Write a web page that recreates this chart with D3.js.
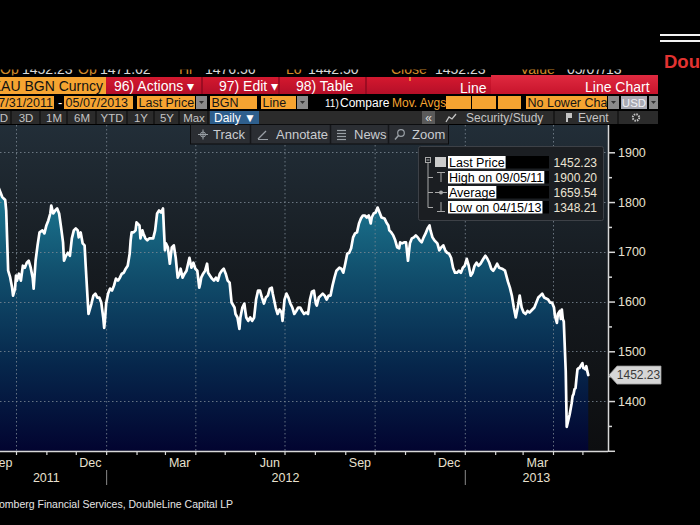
<!DOCTYPE html>
<html><head><meta charset="utf-8">
<script src="https://cdn.jsdelivr.net/npm/d3@7"></script>
<style>html,body{margin:0;padding:0;background:#000;overflow:hidden}svg{display:block}text{font-family:"Liberation Sans",Arial,sans-serif}</style>
</head><body>
<svg id="c" width="700" height="525"></svg>
<script>
// ---------------- DATA ----------------
const dates = [
"2011-09-05","2011-09-09","2011-09-13","2011-09-15","2011-09-17","2011-09-20","2011-09-21","2011-09-23","2011-09-25","2011-09-27","2011-09-28","2011-09-30",
"2011-10-01","2011-10-02","2011-10-04","2011-10-06","2011-10-08","2011-10-10","2011-10-12","2011-10-14","2011-10-16","2011-10-18","2011-10-19","2011-10-21","2011-10-23","2011-10-25","2011-10-28","2011-10-30",
"2011-11-01","2011-11-03","2011-11-05","2011-11-06","2011-11-08","2011-11-10","2011-11-12","2011-11-14","2011-11-16","2011-11-18","2011-11-19","2011-11-21","2011-11-23","2011-11-25","2011-11-27","2011-11-29",
"2011-12-01","2011-12-03","2011-12-04","2011-12-06","2011-12-08","2011-12-10","2011-12-11","2011-12-13","2011-12-14","2011-12-17","2011-12-19","2011-12-21","2011-12-23","2011-12-25","2011-12-27","2011-12-29","2011-12-30","2011-12-31",
"2012-01-01","2012-01-03","2012-01-05","2012-01-07","2012-01-09","2012-01-11","2012-01-13","2012-01-15","2012-01-17","2012-01-19","2012-01-21","2012-01-23","2012-01-25","2012-01-26","2012-01-27","2012-01-29","2012-01-31",
"2012-02-01","2012-02-04","2012-02-05","2012-02-07","2012-02-08","2012-02-10","2012-02-12","2012-02-14","2012-02-16","2012-02-18","2012-02-20","2012-02-22","2012-02-24","2012-02-26","2012-02-28","2012-02-29",
"2012-03-01","2012-03-02","2012-03-04","2012-03-06","2012-03-08","2012-03-10","2012-03-12","2012-03-14","2012-03-16","2012-03-17","2012-03-19","2012-03-21","2012-03-23","2012-03-26","2012-03-28","2012-03-30",
"2012-04-01","2012-04-03","2012-04-05","2012-04-06","2012-04-07","2012-04-09","2012-04-11","2012-04-13","2012-04-14","2012-04-16","2012-04-18","2012-04-20","2012-04-22","2012-04-24","2012-04-26","2012-04-28","2012-04-30",
"2012-05-02","2012-05-04","2012-05-06","2012-05-08","2012-05-11","2012-05-12","2012-05-14","2012-05-16","2012-05-17","2012-05-19","2012-05-21","2012-05-22","2012-05-23","2012-05-25","2012-05-27","2012-05-29","2012-05-31",
"2012-06-02","2012-06-04","2012-06-06","2012-06-08","2012-06-10","2012-06-12","2012-06-14","2012-06-16","2012-06-18","2012-06-19","2012-06-22","2012-06-24","2012-06-26","2012-06-28","2012-06-29",
"2012-07-01","2012-07-03","2012-07-05","2012-07-07","2012-07-09","2012-07-11","2012-07-13","2012-07-15","2012-07-17","2012-07-19","2012-07-21","2012-07-23","2012-07-25","2012-07-27","2012-07-29","2012-07-31",
"2012-08-02","2012-08-03","2012-08-05","2012-08-07","2012-08-09","2012-08-11","2012-08-13","2012-08-15","2012-08-17","2012-08-19","2012-08-21","2012-08-23","2012-08-26","2012-08-28","2012-08-30",
"2012-09-01","2012-09-03","2012-09-05","2012-09-07","2012-09-09","2012-09-11","2012-09-13","2012-09-15","2012-09-17","2012-09-19","2012-09-21","2012-09-23","2012-09-25","2012-09-27","2012-09-28","2012-09-30",
"2012-10-02","2012-10-04","2012-10-06","2012-10-08","2012-10-11","2012-10-13","2012-10-15","2012-10-16","2012-10-18","2012-10-20","2012-10-22","2012-10-24","2012-10-26","2012-10-27","2012-10-29","2012-10-31",
"2012-11-02","2012-11-04","2012-11-06","2012-11-08","2012-11-10","2012-11-12","2012-11-14","2012-11-16","2012-11-18","2012-11-20","2012-11-22","2012-11-24","2012-11-26","2012-11-27","2012-11-29",
"2012-12-01","2012-12-04","2012-12-06","2012-12-08","2012-12-10","2012-12-12","2012-12-14","2012-12-16","2012-12-18","2012-12-20","2012-12-22","2012-12-24","2012-12-26","2012-12-28","2012-12-30",
"2013-01-01","2013-01-03","2013-01-05","2013-01-07","2013-01-09","2013-01-11","2013-01-13","2013-01-15","2013-01-17","2013-01-20","2013-01-22","2013-01-24","2013-01-26","2013-01-28","2013-01-30",
"2013-02-01","2013-02-03","2013-02-05","2013-02-08","2013-02-11","2013-02-14","2013-02-16","2013-02-18","2013-02-20","2013-02-22","2013-02-24","2013-02-26","2013-02-28",
"2013-03-02","2013-03-04","2013-03-06","2013-03-08","2013-03-11","2013-03-13","2013-03-15","2013-03-17","2013-03-19","2013-03-21","2013-03-23","2013-03-25","2013-03-27","2013-03-29","2013-03-31",
"2013-04-02","2013-04-03","2013-04-05","2013-04-06","2013-04-08","2013-04-09","2013-04-10","2013-04-11","2013-04-12","2013-04-14","2013-04-15","2013-04-18","2013-04-20","2013-04-21","2013-04-22","2013-04-23","2013-04-24","2013-04-25","2013-04-26","2013-04-27","2013-04-28","2013-04-29",
"2013-05-01","2013-05-02","2013-05-03","2013-05-04","2013-05-05","2013-05-06","2013-05-07"
];
const prices = [
1900.2,1858,1830,1820,1810,1804,1783,1662,1649,1628,1612,1626,
1652,1642,1656,1642,1672,1668,1678,1682,1668,1648,1626,1682,1713,1739,1743,1737,
1753,1763,1777,1793,1777,1783,1787,1777,1749,1719,1682,1692,1698,1692,1727,1743,
1747,1743,1729,1739,1717,1713,1676,1608,1575,1596,1612,1616,1608,1608,1598,1568,1547,1568,
1596,1616,1626,1622,1632,1646,1642,1648,1656,1658,1666,1672,1696,1723,1739,1739,1743,
1759,1753,1727,1743,1737,1727,1723,1727,1727,1727,1743,1777,1783,1779,1787,1743,
1703,1717,1709,1676,1709,1713,1688,1648,1656,1666,1648,1656,1662,1688,1668,1678,
1666,1662,1628,1636,1648,1656,1662,1676,1658,1652,1646,1642,1648,1642,1656,1662,1666,
1656,1642,1638,1598,1588,1575,1568,1545,1568,1588,1596,1581,1568,1561,1568,1561,1568,
1604,1622,1622,1608,1596,1608,1612,1626,1628,1616,1588,1575,1584,1578,1561,
1604,1616,1608,1596,1588,1575,1581,1588,1588,1581,1575,1578,1575,1604,1620,1622,
1596,1592,1608,1612,1616,1612,1604,1612,1612,1632,1648,1662,1668,1666,1658,
1676,1696,1698,1707,1729,1737,1739,1757,1767,1773,1773,1769,1773,1757,1769,1777,
1779,1789,1779,1769,1767,1759,1753,1743,1739,1733,1723,1709,1707,1719,1717,1719,
1719,1682,1717,1727,1729,1733,1729,1723,1719,1729,1737,1747,1753,1743,1729,
1723,1717,1703,1709,1713,1703,1698,1696,1688,1668,1658,1658,1662,1658,1668,
1672,1686,1672,1652,1658,1672,1678,1672,1676,1686,1692,1686,1678,1666,1662,
1668,1676,1668,1666,1662,1640,1628,1612,1588,1568,1588,1612,1588,
1578,1575,1581,1578,1584,1588,1598,1608,1612,1616,1608,1606,1604,1598,1598,
1588,1571,1557,1575,1581,1565,1584,1565,1560,1460,1348.21,1373,1395,1410,1414,1424,1426,1446,1464,1466,1466,1470,
1476,1466,1466,1464,1470,1460,1452.23
];
const yTicks = [1300,1400,1500,1600,1700,1800,1900];
const yMinorTicks = [1350,1450,1550,1650,1750,1850];
const gridDates = ["2011-10-01","2012-01-01","2012-04-01","2012-07-01","2012-10-01","2013-01-01","2013-04-01"];
const monthLabels = ["Sep","Dec","Mar","Jun","Sep","Dec","Mar"];
const monthLabelDates = ["2011-09-16","2011-12-16","2012-03-16","2012-06-16","2012-09-16","2012-12-16","2013-03-16"];
const yearLabels = ["2011","2012","2013"];
const yearStarts = ["2011-09-01","2012-01-01","2013-01-01"];
const legendLabels = ["Last Price","High on 09/05/11","Average","Low on 04/15/13"];
const legendValues = ["1452.23","1900.20","1659.54","1348.21"];
const lastPrice = 1452.23;

// ---------------- SETUP ----------------
const svg = d3.select("#c");
const W = 700, H = 525;
const PX0 = 0, PX1 = 608, PY0 = 125, PY1 = 451;
const parse = d3.utcParse("%Y-%m-%d");
const data = dates.map((d, i) => ({date: parse(d), v: prices[i]}));
const x = d3.scaleUtc().domain([parse("2011-10-01"), parse("2013-04-01")]).range([16, 553]);
const y = d3.scaleLinear().domain([1300, 1900]).range([450.8, 152.3]);

svg.append("rect").attr("width", W).attr("height", H).attr("fill", "#000");

const defs = svg.append("defs");
function grad(id, y1, y2, stops) {
  const g = defs.append("linearGradient").attr("id", id).attr("gradientUnits", "userSpaceOnUse")
    .attr("x1", 0).attr("x2", 0).attr("y1", y1).attr("y2", y2);
  stops.forEach(s => g.append("stop").attr("offset", s[0]).attr("stop-color", s[1]));
}
function clip(id, x0, y0, w, h) {
  defs.append("clipPath").attr("id", id).append("rect").attr("x", x0).attr("y", y0).attr("width", w).attr("height", h);
}
grad("bgG", PY0, PY1, [[0, "#222e38"], [0.45, "#161b20"], [1, "#0d0e10"]]);
grad("areaG", 185, PY1, [[0, "#1d7b95"], [0.33, "#114f6d"], [0.68, "#06264b"], [1, "#020430"]]);
grad("redG", 77, 94, [[0, "#d4182f"], [1, "#b50f28"]]);
grad("tabG", 75, 94, [[0, "#e02a40"], [1, "#c8142c"]]);
clip("plotClip", PX0, PY0, PX1 - PX0, PY1 - PY0);
clip("topClip", 0, 69.5, 700, 6);
clip("canvasClip", 0, 0, W, H);

// ---------------- PLOT ----------------
svg.append("rect").attr("x", PX0).attr("y", PY0).attr("width", PX1 - PX0).attr("height", PY1 - PY0).attr("fill", "url(#bgG)");
const plot = svg.append("g").attr("clip-path", "url(#plotClip)");
plot.append("path").datum(data)
  .attr("d", d3.area().x(d => x(d.date)).y0(y(1300)).y1(d => y(d.v)))
  .attr("fill", "url(#areaG)");
plot.selectAll(".gv").data(gridDates).join("line")
  .attr("x1", d => x(parse(d)) + 0.5).attr("x2", d => x(parse(d)) + 0.5)
  .attr("y1", PY0).attr("y2", PY1)
  .attr("stroke", "#7d8994").attr("stroke-width", 1).attr("stroke-dasharray", "1.5,2.5").attr("opacity", 0.8);
plot.selectAll(".gh").data(yTicks.filter(t => t > 1300)).join("line")
  .attr("x1", PX0).attr("x2", PX1)
  .attr("y1", d => Math.round(y(d)) + 0.5).attr("y2", d => Math.round(y(d)) + 0.5)
  .attr("stroke", "#7d8994").attr("stroke-width", 1).attr("stroke-dasharray", "1.5,2.5").attr("opacity", 0.8);
plot.append("path").datum(data)
  .attr("d", d3.line().x(d => x(d.date)).y(d => y(d.v)))
  .attr("fill", "none").attr("stroke", "#fff").attr("stroke-width", 2.7)
  .attr("stroke-linejoin", "round").attr("stroke-linecap", "round");

// ---------------- AXES ----------------
const axisCol = "#d8d8d8", labCol = "#e8e0cf";
const yAx = svg.append("g").attr("transform", `translate(${PX1},0)`)
  .call(d3.axisRight(y).tickValues(yTicks).tickSize(7).tickSizeOuter(0).tickPadding(3)
    .tickFormat(d => d === 1300 ? "" : d));
yAx.select(".domain").remove();
yAx.selectAll("line").attr("stroke", axisCol).attr("stroke-width", 1.5);
yAx.selectAll("text").attr("fill", labCol).attr("font-size", 12.5).attr("font-family", "Liberation Sans, Arial, sans-serif");
const yAx2 = svg.append("g").attr("transform", `translate(${PX1},0)`)
  .call(d3.axisRight(y).tickValues(yMinorTicks).tickSize(4).tickSizeOuter(0).tickFormat(""));
yAx2.select(".domain").remove();
yAx2.selectAll("line").attr("stroke", axisCol).attr("stroke-width", 1.5);
svg.append("line").attr("x1", PX1 + 0.5).attr("x2", PX1 + 0.5).attr("y1", PY0).attr("y2", PY1 + 1)
  .attr("stroke", axisCol).attr("stroke-width", 1.5);

const monthTicks = d3.utcMonth.range(parse("2011-09-01"), parse("2013-05-02"));
const xAx = svg.append("g").attr("transform", `translate(0,${PY1})`)
  .call(d3.axisBottom(x).tickValues(monthTicks).tickSize(4).tickSizeOuter(0).tickFormat(""));
xAx.select(".domain").remove();
xAx.selectAll("line").attr("stroke", axisCol).attr("stroke-width", 1.2);
svg.append("line").attr("x1", PX0).attr("x2", PX1).attr("y1", PY1 + 0.5).attr("y2", PY1 + 0.5)
  .attr("stroke", axisCol).attr("stroke-width", 1.5);

const labG = svg.append("g").attr("clip-path", "url(#canvasClip)");
labG.selectAll(".mlab").data(monthLabels).join("text")
  .attr("x", (d, i) => x(parse(monthLabelDates[i]))).attr("y", 467)
  .attr("text-anchor", "middle").attr("font-size", 12.5).attr("fill", labCol).text(d => d);
const yb = yearStarts.map(d => x(parse(d))).concat([PX1]);
labG.selectAll(".ylab").data(yearLabels).join("text")
  .attr("x", (d, i) => (yb[i] + yb[i + 1]) / 2).attr("y", 482)
  .attr("text-anchor", "middle").attr("font-size", 12.5).attr("fill", labCol).text(d => d);
svg.selectAll(".ysep").data(yearStarts.slice(1)).join("line")
  .attr("x1", d => x(parse(d)) + 0.5).attr("x2", d => x(parse(d)) + 0.5)
  .attr("y1", 470).attr("y2", 485).attr("stroke", "#8a8a8a").attr("stroke-width", 1);

// last price tag
const ly = y(lastPrice);
svg.append("path")
  .attr("d", `M${PX1 + 1},${ly} L${PX1 + 9},${ly - 9} L661,${ly - 9} L661,${ly + 9} L${PX1 + 9},${ly + 9} Z`)
  .attr("fill", "#d6d6d6").attr("stroke", "#9a9a9a").attr("stroke-width", 0.8);
svg.append("text").attr("x", 638.5).attr("y", ly + 4.3).attr("text-anchor", "middle")
  .attr("font-size", 12).attr("fill", "#3a3a3a").text(lastPrice.toFixed(2));

// ---------------- CHART TOOLBAR ----------------
const tb = svg.append("g");
tb.append("rect").attr("x", 190.5).attr("y", 124.5).attr("width", 258).attr("height", 19.5)
  .attr("fill", "#2b2e33").attr("stroke", "#0c0d0f");
[250, 330, 388].forEach(sx => tb.append("line").attr("x1", sx + 0.5).attr("x2", sx + 0.5).attr("y1", 125).attr("y2", 144).attr("stroke", "#15171a").attr("stroke-width", 1.5));
const tbTxt = [["Track", 213], ["Annotate", 276], ["News", 354], ["Zoom", 412]];
tb.selectAll(".tbt").data(tbTxt).join("text").attr("x", d => d[1]).attr("y", 139)
  .attr("font-size", 13).attr("fill", "#c9ccd0").text(d => d[0]);
const ic = "#9aa0a6";
tb.append("line").attr("x1", 198).attr("x2", 208).attr("y1", 134.5).attr("y2", 134.5).attr("stroke", ic);
tb.append("line").attr("x1", 203).attr("x2", 203).attr("y1", 129.5).attr("y2", 139.5).attr("stroke", ic);
tb.append("circle").attr("cx", 203).attr("cy", 134.5).attr("r", 2.5).attr("fill", "none").attr("stroke", ic);
tb.append("line").attr("x1", 258).attr("x2", 266).attr("y1", 139).attr("y2", 131).attr("stroke", ic).attr("stroke-width", 1.3);
tb.append("line").attr("x1", 258).attr("x2", 268).attr("y1", 139.5).attr("y2", 139.5).attr("stroke", ic);
[130.5, 133.5, 136.5, 139.5].forEach(yy => tb.append("line").attr("x1", 337).attr("x2", 346).attr("y1", yy).attr("y2", yy).attr("stroke", ic).attr("stroke-width", 1.2));
tb.append("circle").attr("cx", 401).attr("cy", 133).attr("r", 3.3).attr("fill", "none").attr("stroke", ic).attr("stroke-width", 1.2);
tb.append("line").attr("x1", 398.5).attr("x2", 395).attr("y1", 135.5).attr("y2", 139.5).attr("stroke", ic).attr("stroke-width", 1.5);

// ---------------- LEGEND ----------------
const lg = svg.append("g");
lg.append("rect").attr("x", 418.5).attr("y", 146.5).attr("width", 185).attr("height", 74)
  .attr("fill", "#1b1e22").attr("stroke", "#3d4147").attr("rx", 2);
const base = [166.5, 181.5, 196.5, 211.5];
lg.selectAll(".lbk").data(legendLabels).join("rect")
  .attr("x", 448).attr("y", (d, i) => base[i] - 10.5).attr("width", 101).attr("height", 12.5).attr("fill", "#000");
const lt = lg.selectAll(".lt").data(legendLabels).join("text").attr("class", "lt")
  .attr("x", 449).attr("y", (d, i) => base[i]).attr("font-size", 12.5).attr("fill", "#000").text(d => d);
lt.each(function (d, i) {
  const w = this.getComputedTextLength();
  lg.insert("rect", ".lt").attr("x", 448).attr("y", base[i] - 10.5).attr("width", Math.min(w + 2, 101)).attr("height", 12.5).attr("fill", "#fff");
});
lg.selectAll(".lv").data(legendValues).join("text")
  .attr("x", 597).attr("y", (d, i) => base[i]).attr("text-anchor", "end")
  .attr("font-size", 12).attr("fill", "#ece4d4").text(d => d);
const li = "#a8a8a8";
lg.append("rect").attr("x", 425.5).attr("y", 157.5).attr("width", 5).attr("height", 5).attr("fill", "none").attr("stroke", li);
lg.append("line").attr("x1", 426.5).attr("x2", 429.5).attr("y1", 160).attr("y2", 160).attr("stroke", li);
lg.append("line").attr("x1", 428).attr("x2", 428).attr("y1", 163).attr("y2", 207.5).attr("stroke", li);
[177, 192, 207].forEach(yy => lg.append("line").attr("x1", 428).attr("x2", 433).attr("y1", yy + 0.5).attr("y2", yy + 0.5).attr("stroke", li));
lg.append("rect").attr("x", 435).attr("y", 157).attr("width", 11).attr("height", 10).attr("fill", "#cbcbcb");
lg.append("line").attr("x1", 437).attr("x2", 445).attr("y1", 172.5).attr("y2", 172.5).attr("stroke", li);
lg.append("line").attr("x1", 441).attr("x2", 441).attr("y1", 172).attr("y2", 182).attr("stroke", li);
lg.append("line").attr("x1", 435).attr("x2", 447).attr("y1", 192.5).attr("y2", 192.5).attr("stroke", li);
lg.append("circle").attr("cx", 441).attr("cy", 192.5).attr("r", 2).attr("fill", li);
lg.append("line").attr("x1", 441).attr("x2", 441).attr("y1", 202).attr("y2", 211).attr("stroke", li);
lg.append("line").attr("x1", 437).attr("x2", 445).attr("y1", 211.5).attr("y2", 211.5).attr("stroke", li);

// ---------------- BLOOMBERG HEADER ROWS ----------------
const orange = "#f6a431";
const topRow = [["Op", 0, orange], ["1452.23", 22, "#fff"], ["Op", 78, orange], ["1471.62", 100, "#fff"], ["Hi", 179, orange], ["1476.56", 205, "#fff"],
  ["Lo", 286, orange], ["1442.50", 308, "#fff"], ["Close", 391, orange], ["1452.23", 435, "#fff"], ["Value", 520, orange], ["05/07/13", 567, "#fff"]];
svg.append("g").attr("clip-path", "url(#topClip)").selectAll("text").data(topRow).join("text")
  .attr("x", d => d[1]).attr("y", 74).attr("font-size", 14).attr("fill", d => d[2]).attr("opacity", 0.85).text(d => d[0]);

// row 2
svg.append("rect").attr("x", 0).attr("y", 77).attr("width", 106).attr("height", 17).attr("fill", orange);
clip("r2c", 0, 77, 106, 17);
svg.append("text").attr("clip-path", "url(#r2c)").attr("x", 103).attr("y", 91).attr("text-anchor", "end")
  .attr("font-size", 14).attr("fill", "#111").text("XAU BGN Curncy");
svg.append("rect").attr("x", 106).attr("y", 77).attr("width", 385).attr("height", 17).attr("fill", "url(#redG)");
[202, 279, 366].forEach(sx => svg.append("line").attr("x1", sx).attr("x2", sx).attr("y1", 77).attr("y2", 94).attr("stroke", "#8e0a1f").attr("stroke-width", 1.5));
svg.append("line").attr("x1", 410).attr("x2", 410).attr("y1", 77).attr("y2", 81).attr("stroke", orange).attr("stroke-width", 1.5);
const row2 = [["96) Actions ▾", 114, 91], ["97) Edit ▾", 219, 91], ["98) Table", 296, 91], ["Line", 460, 93]];
svg.selectAll(".r2").data(row2).join("text").attr("x", d => d[1]).attr("y", d => d[2])
  .attr("font-size", 14).attr("fill", "#fff").text(d => d[0]);
svg.append("rect").attr("x", 491).attr("y", 75).attr("width", 167).attr("height", 19).attr("fill", "url(#tabG)");
svg.append("text").attr("x", 585).attr("y", 91.5).attr("font-size", 14).attr("fill", "#fff").text("Line Chart");

// row 3
const r3 = svg.append("g");
const boxes3 = [[0, 54, "07/31/2011", "end"], [64, 69, "05/07/2013", "start"], [137, 58, "Last Price", "start"], [210, 47, "BGN", "start"], [261, 35, "Line", "start"],
  [446, 25, "", "start"], [472, 24, "", "start"], [498, 23, "", "start"], [526, 81, "No Lower Chart", "start"]];
boxes3.forEach((b, i) => {
  clip("b3c" + i, b[0], 96, b[1], 13);
  r3.append("rect").attr("x", b[0]).attr("y", 96).attr("width", b[1]).attr("height", 13).attr("fill", orange);
  r3.append("text").attr("clip-path", `url(#b3c${i})`)
    .attr("x", b[3] === "end" ? b[0] + b[1] - 1 : b[0] + 1.5).attr("y", 107).attr("text-anchor", b[3])
    .attr("font-size", 12.5).attr("fill", "#151515").text(b[2]);
});
r3.append("text").attr("x", 58).attr("y", 107).attr("font-size", 13).attr("fill", "#fff").text("-");
[[196, 11], [297, 11], [608, 11], [649, 9]].forEach(b => {
  r3.append("rect").attr("x", b[0]).attr("y", 96).attr("width", b[1]).attr("height", 13).attr("fill", "#8a8a8a");
  r3.append("path").attr("d", `M${b[0] + b[1] / 2 - 2.5},101 L${b[0] + b[1] / 2 + 2.5},101 L${b[0] + b[1] / 2},104 Z`).attr("fill", "#333");
});
r3.append("rect").attr("x", 621).attr("y", 96).attr("width", 26).attr("height", 13).attr("fill", "#a9a9b2");
r3.append("text").attr("x", 634).attr("y", 107).attr("text-anchor", "middle").attr("font-size", 11.5).attr("fill", "#f0f0f4").text("USD");
r3.append("text").attr("x", 325).attr("y", 107).attr("font-size", 10).attr("fill", "#fff").text("11)");
r3.append("text").attr("x", 340).attr("y", 107).attr("font-size", 12).attr("fill", "#fff").text("Compare");
r3.append("text").attr("x", 392).attr("y", 107).attr("font-size", 12).attr("fill", orange).text("Mov. Avgs");

// row 4
const r4 = svg.append("g");
r4.append("rect").attr("x", 0).attr("y", 111).attr("width", 658).attr("height", 13).attr("fill", "#2b2b2b");
[11, 40, 67, 96, 127, 154, 179, 208, 554, 618].forEach(sx => r4.append("line").attr("x1", sx).attr("x2", sx).attr("y1", 111).attr("y2", 124).attr("stroke", "#141414").attr("stroke-width", 1.5));
const r4lab = [["D", 4], ["3D", 26], ["1M", 54], ["6M", 82], ["YTD", 112], ["1Y", 141], ["5Y", 167], ["Max", 194]];
r4.selectAll(".r4").data(r4lab).join("text").attr("x", d => d[1]).attr("y", 122).attr("text-anchor", "middle")
  .attr("font-size", 11.5).attr("fill", "#c4c4c4").text(d => d[0]);
r4.append("rect").attr("x", 210).attr("y", 111).attr("width", 49).attr("height", 13).attr("fill", "#2e5f8d");
r4.append("text").attr("x", 214).attr("y", 122).attr("font-size", 12).attr("fill", "#fff").text("Daily ▼");
r4.append("rect").attr("x", 422).attr("y", 111).attr("width", 13).attr("height", 13).attr("fill", "#5a5a5a");
r4.append("text").attr("x", 428.5).attr("y", 122).attr("text-anchor", "middle").attr("font-size", 12).attr("fill", "#ddd").text("«");
r4.append("path").attr("d", "M446,122 L449,117 L452,119 L456,114").attr("fill", "none").attr("stroke", "#c4c4c4").attr("stroke-width", 1.3);
r4.append("text").attr("x", 466).attr("y", 122).attr("font-size", 12).attr("fill", "#c4c4c4").text("Security/Study");
r4.append("path").attr("d", "M566,113 L572,113 L572,118 L568,118 L568,122 L566,122 Z").attr("fill", "#c4c4c4");
r4.append("text").attr("x", 578).attr("y", 122).attr("font-size", 12).attr("fill", "#c4c4c4").text("Event");
r4.append("circle").attr("cx", 636).attr("cy", 117.5).attr("r", 3.2).attr("fill", "none").attr("stroke", "#c4c4c4").attr("stroke-width", 2).attr("stroke-dasharray", "1.5,1");

// ---------------- SLIDE DECOR ----------------
svg.append("rect").attr("x", 660).attr("y", 34).attr("width", 40).attr("height", 2).attr("fill", "#f2f2f2");
svg.append("rect").attr("x", 660).attr("y", 40).attr("width", 40).attr("height", 2).attr("fill", "#f2f2f2");
svg.append("g").attr("clip-path", "url(#canvasClip)").append("text")
  .attr("x", 664).attr("y", 68).attr("font-size", 18.5).attr("font-weight", "bold").attr("fill", "#e23331").text("DoubleLine");
svg.append("g").attr("clip-path", "url(#canvasClip)").append("text")
  .attr("x", 233).attr("y", 508).attr("text-anchor", "end").attr("font-size", 10.5).attr("fill", "#e6e6e6")
  .text("Source: Bloomberg Financial Services, DoubleLine Capital LP");
</script>
</body></html>
